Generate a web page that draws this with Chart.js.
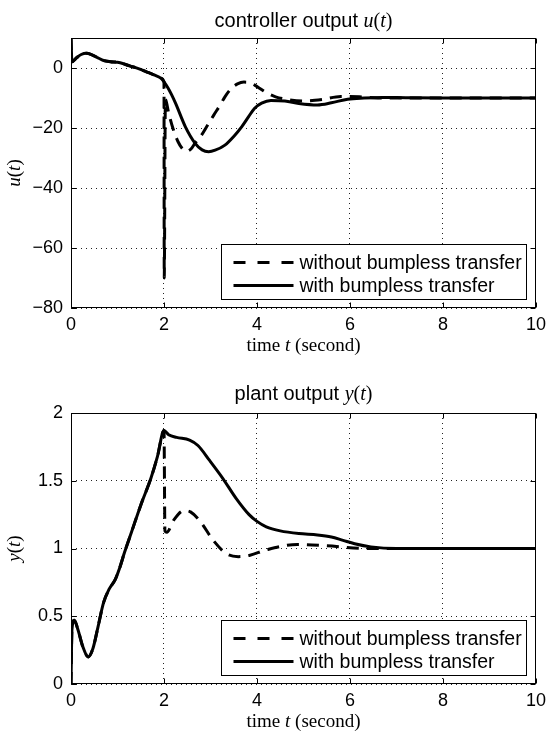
<!DOCTYPE html>
<html><head><meta charset="utf-8">
<script src="https://cdn.jsdelivr.net/npm/chart.js@4/dist/chart.umd.min.js"></script>
<style>html,body{margin:0;padding:0;background:#fff;}canvas{display:block;}</style>
</head><body>
<canvas id="c1" width="552" height="368"></canvas>
<canvas id="c2" width="552" height="368"></canvas>
<script>
// ---- tick labels / categories ----
const xTicks = [0, 2, 4, 6, 8, 10];
const uTicks = [-80, -60, -40, -20, 0];
const yTicks = [0, 0.5, 1, 1.5, 2];
const legendLabels = ['without bumpless transfer', 'with bumpless transfer'];

// ---- controller output u(t): shared part before switch (t <= 2) ----
const tUBefore = [0, 0.02, 0.12, 0.22, 0.33, 0.45, 0.58, 0.7, 0.85, 1.0, 1.13, 1.26, 1.45, 1.61, 1.8, 1.93, 2.0];
const uBefore  = [10, 2.1, 3.4, 4.5, 4.9, 4.4, 3.4, 2.5, 2.1, 1.9, 1.4, 0.7, -0.2, -1.2, -2.4, -3.4, -4.6];
// with bumpless transfer, after switch
const tUWith = [2.08, 2.16, 2.25, 2.46, 2.67, 2.82, 2.96, 3.1, 3.31, 3.5, 3.67, 3.82, 3.95, 4.1, 4.3, 4.6, 4.9, 5.3, 5.6, 5.95, 6.3, 6.7, 7.2, 8, 9, 10];
const uWith  = [-6.5, -8.8, -11.8, -19.6, -25.1, -27.3, -27.9, -27.4, -25.7, -22.8, -19.6, -16.2, -13.4, -11.7, -10.8, -11.0, -11.8, -12.3, -11.6, -10.4, -10.0, -9.8, -9.9, -10, -10, -10];
// without bumpless transfer, after switch
const tUWithout = [2.005, 2.03, 2.1, 2.2, 2.3, 2.4, 2.48, 2.58, 2.67, 2.8, 2.92, 3.07, 3.21, 3.31, 3.45, 3.58, 3.72, 3.85, 3.95, 4.08, 4.2, 4.4, 4.7, 5.0, 5.4, 5.8, 6.2, 6.6, 7, 8, 9, 10];
const uWithout  = [-70, -10.5, -15, -20.5, -24.5, -27, -27.8, -27, -25, -22.5, -19.5, -15.7, -12.3, -9.6, -6.8, -5.3, -4.7, -4.9, -5.7, -7, -8.2, -9.6, -10.6, -11, -10.5, -9.5, -9.6, -10, -10, -10, -10, -10];

// ---- plant output y(t): shared part before switch ----
const tYBefore = [0, 0.02, 0.07, 0.15, 0.25, 0.37, 0.47, 0.58, 0.7, 0.82, 0.95, 1.05, 1.15, 1.3, 1.5, 1.72, 1.86, 2.0];
const yBefore  = [0, 0.40, 0.47, 0.40, 0.28, 0.20, 0.26, 0.42, 0.60, 0.70, 0.77, 0.86, 0.97, 1.12, 1.32, 1.52, 1.68, 1.87];
const tYWith = [2.1, 2.27, 2.55, 2.73, 2.98, 3.26, 3.55, 3.83, 4.0, 4.2, 4.5, 4.9, 5.3, 5.6, 5.85, 6.1, 6.45, 7, 8, 9, 10];
const yWith  = [1.84, 1.82, 1.80, 1.76, 1.65, 1.52, 1.37, 1.25, 1.20, 1.16, 1.13, 1.11, 1.10, 1.085, 1.06, 1.035, 1.012, 1.0, 1.0, 1.0, 1.0];
const tYWithout = [2.02, 2.06, 2.21, 2.43, 2.57, 2.78, 3.06, 3.35, 3.6, 3.85, 4.2, 4.87, 5.5, 6.36, 7, 8, 9, 10];
const yWithout  = [1.13, 1.12, 1.21, 1.28, 1.27, 1.20, 1.06, 0.96, 0.94, 0.95, 0.99, 1.03, 1.02, 1.0, 1.0, 1.0, 1.0, 1.0];

const SANS = '"Liberation Sans", Arial, Helvetica, sans-serif';
const SERIF = '"Liberation Serif", "Times New Roman", Times, serif';

function pts(ts, vs) { return ts.map((t, i) => ({ x: t, y: vs[i] })); }

function drawRich(ctx, parts, x, y) {
  let total = 0;
  parts.forEach(p => { ctx.font = p[1]; p.w = ctx.measureText(p[0]).width; total += p.w; });
  let cx = x - total / 2;
  ctx.textAlign = 'left';
  parts.forEach(p => { ctx.font = p[1]; ctx.fillText(p[0], cx, y); cx += p.w; });
}

function makeChart(id, cfg) {
  const deco = {
    id: 'deco',
    afterDraw(chart) {
      const ctx = chart.ctx, a = chart.chartArea;
      const xs = chart.scales.x, ys = chart.scales.y;
      ctx.save();
      ctx.strokeStyle = '#000'; ctx.lineWidth = 1; ctx.setLineDash([]);
      const L = Math.round(a.left) + 0.5, R = Math.round(a.right) - 0.5;
      const T = Math.round(a.top) + 0.5, B = Math.round(a.bottom) - 0.5;
      ctx.strokeRect(L, T, R - L, B - T);
      ctx.beginPath();
      xTicks.forEach(v => {
        const px = Math.round(xs.getPixelForValue(v)) + 0.5;
        ctx.moveTo(px, B); ctx.lineTo(px, B - 5);
        ctx.moveTo(px, T); ctx.lineTo(px, T + 5);
      });
      cfg.yTicks.forEach(v => {
        const py = Math.round(ys.getPixelForValue(v)) + 0.5;
        ctx.moveTo(L, py); ctx.lineTo(L + 5, py);
        ctx.moveTo(R, py); ctx.lineTo(R - 5, py);
      });
      ctx.stroke();
      // texts
      ctx.fillStyle = '#000';
      ctx.textBaseline = 'alphabetic';
      const cxm = (a.left + a.right) / 2;
      drawRich(ctx, cfg.title, cxm, cfg.titleY);
      drawRich(ctx, [['time ', '19px ' + SERIF], ['t', 'italic 19px ' + SERIF], [' (second)', '19px ' + SERIF]], cxm, a.bottom + 43);
      ctx.save();
      ctx.translate(20, (a.top + a.bottom) / 2);
      ctx.rotate(-Math.PI / 2);
      drawRich(ctx, cfg.ylabel, 0, 0);
      ctx.restore();
      // legend
      const bw = 305, bh = 55;
      const bx = Math.round(a.right) - 10 - bw + 0.5, by = Math.round(a.bottom) - 9 - bh + 0.5;
      ctx.fillStyle = '#fff';
      ctx.fillRect(bx, by, bw, bh);
      ctx.strokeStyle = '#000'; ctx.lineWidth = 1;
      ctx.strokeRect(bx, by, bw, bh);
      const rows = [by + 18, by + 41];
      ctx.lineWidth = 3;
      ctx.setLineDash([12, 12]);
      ctx.beginPath(); ctx.moveTo(bx + 12, rows[0]); ctx.lineTo(bx + 72, rows[0]); ctx.stroke();
      ctx.setLineDash([]);
      ctx.beginPath(); ctx.moveTo(bx + 12, rows[1]); ctx.lineTo(bx + 72, rows[1]); ctx.stroke();
      ctx.fillStyle = '#000';
      ctx.font = '19.5px ' + SANS;
      ctx.textAlign = 'left'; ctx.textBaseline = 'middle';
      ctx.fillText(legendLabels[0], bx + 78, rows[0] + 1);
      ctx.fillText(legendLabels[1], bx + 78, rows[1] + 1);
      ctx.restore();
    }
  };
  return new Chart(document.getElementById(id), {
    type: 'line',
    data: {
      datasets: [
        { label: legendLabels[0], data: cfg.without, borderColor: '#000', borderWidth: 3, borderDash: [12, 8],
          pointRadius: 0, fill: false, cubicInterpolationMode: 'monotone', order: 1 },
        { label: legendLabels[1], data: cfg.with, borderColor: '#000', borderWidth: 3,
          pointRadius: 0, fill: false, cubicInterpolationMode: 'monotone', order: 0 }
      ]
    },
    options: {
      responsive: false, animation: false, devicePixelRatio: 1,
      layout: { padding: { top: cfg.padTop, right: 11, left: 0, bottom: 0 } },
      plugins: { legend: { display: false }, tooltip: { enabled: false }, title: { display: false } },
      scales: {
        x: {
          type: 'linear', min: 0, max: 10,
          afterBuildTicks: s => { s.ticks = xTicks.map(v => ({ value: v })); },
          afterFit: s => { s.height = cfg.xH; },
          ticks: { color: '#000', font: { family: SANS, size: 18 }, padding: 6, maxRotation: 0, autoSkip: false,
                   callback: v => String(v) },
          grid: { color: '#222', lineWidth: 1, drawTicks: false },
          border: { display: false, dash: [1, 4] }
        },
        y: {
          type: 'linear', min: cfg.yMin, max: cfg.yMax,
          afterBuildTicks: s => { s.ticks = cfg.yTicks.map(v => ({ value: v })); },
          afterFit: s => { s.width = 71; },
          ticks: { color: '#000', font: { family: SANS, size: 18 }, padding: 8, autoSkip: false,
                   callback: v => String(v).replace('-', '\u2212') },
          grid: { color: '#222', lineWidth: 1, drawTicks: false },
          border: { display: false, dash: [1, 4] }
        }
      }
    },
    plugins: [deco]
  });
}

makeChart('c1', {
  with: pts(tUBefore.concat(tUWith), uBefore.concat(uWith)),
  without: pts(tUBefore.concat(tUWithout), uBefore.concat(uWithout)),
  yMin: -80, yMax: 10, yTicks: uTicks, padTop: 38, xH: 60, titleY: 27,
  title: [['controller output ', '20px ' + SANS], ['u', 'italic 20px ' + SERIF], ['(', '20px ' + SERIF], ['t', 'italic 20px ' + SERIF], [')', '20px ' + SERIF]],
  ylabel: [['u', 'italic 19px ' + SERIF], ['(', '19px ' + SERIF], ['t', 'italic 19px ' + SERIF], [')', '19px ' + SERIF]]
});
makeChart('c2', {
  with: pts(tYBefore.concat(tYWith), yBefore.concat(yWith)),
  without: pts(tYBefore.concat(tYWithout), yBefore.concat(yWithout)),
  yMin: 0, yMax: 2, yTicks: yTicks, padTop: 45, xH: 52, titleY: 32,
  title: [['plant output ', '20px ' + SANS], ['y', 'italic 20px ' + SERIF], ['(', '20px ' + SERIF], ['t', 'italic 20px ' + SERIF], [')', '20px ' + SERIF]],
  ylabel: [['y', 'italic 19px ' + SERIF], ['(', '19px ' + SERIF], ['t', 'italic 19px ' + SERIF], [')', '19px ' + SERIF]]
});
</script>
</body></html>
